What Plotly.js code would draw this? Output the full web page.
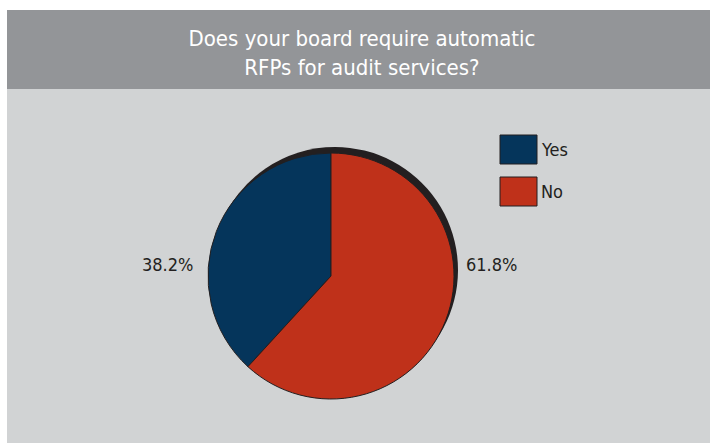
<!DOCTYPE html>
<html>
<head>
<meta charset="utf-8">
<script src="https://cdn.plot.ly/plotly-3.0.1.min.js"></script>
<style>
  html, body { margin: 0; padding: 0; background: #ffffff; }
  #chart { width: 710px; height: 443px; }
</style>
</head>
<body>
<div id="chart"></div>
<script>
// Survey answers
const labels = ['Yes', 'No'];
const shares = [38.2, 61.8];
const sliceColors = ['#05355b', '#bf311a'];
const titleText = 'Does your board require automatic<br>RFPs for audit services?';

const W = 710, H = 443;
const FONT = '"DejaVu Sans Condensed", "Liberation Sans Narrow", Arial, sans-serif';
const INK = '#231f20';

// pixel -> paper helpers
const px = v => v / W;
const py = v => 1 - v / H;

// pie placement (pixels)
const cx = 331, cy = 276, r = 123;
const shadowDx = 4, shadowDy = -6;

// "Yes" ends at 12 o'clock, sweeping back counter-clockwise; "No" follows clockwise
const total = shares.reduce((a, b) => a + b, 0);
const startAngle = -shares[0] / total * 360;

function domainAt(x, y) {
  return { x: [px(x - r), px(x + r)], y: [py(y + r), py(y - r)] };
}

const shadow = {
  type: 'pie',
  labels: labels,
  values: shares,
  sort: false,
  direction: 'clockwise',
  rotation: startAngle,
  textinfo: 'none',
  hoverinfo: 'skip',
  showlegend: false,
  marker: { colors: labels.map(() => INK), line: { width: 0 } },
  domain: domainAt(cx + shadowDx, cy + shadowDy)
};

const pie = {
  type: 'pie',
  labels: labels,
  values: shares,
  sort: false,
  direction: 'clockwise',
  rotation: startAngle,
  textinfo: 'none',
  hoverinfo: 'label+percent',
  showlegend: false,
  marker: { colors: sliceColors, line: { color: INK, width: 1 } },
  domain: domainAt(cx, cy)
};

// panel backgrounds: title band and chart area
const shapes = [
  { type: 'rect', xref: 'paper', yref: 'paper', x0: px(7), x1: 1, y0: py(89), y1: py(10),
    fillcolor: '#939598', line: { width: 0 }, layer: 'below' },
  { type: 'rect', xref: 'paper', yref: 'paper', x0: px(7), x1: 1, y0: 0, y1: py(89),
    fillcolor: '#d1d3d4', line: { width: 0 }, layer: 'below' }
];

const annotations = [];

// legend swatches and names
labels.forEach((name, i) => {
  const top = 135 + 42 * i;
  shapes.push({
    type: 'rect', xref: 'paper', yref: 'paper',
    x0: px(500), x1: px(537), y0: py(top + 29), y1: py(top),
    fillcolor: sliceColors[i], line: { color: INK, width: 1 }
  });
  annotations.push({
    xref: 'paper', yref: 'paper', x: px(539), y: py(top + 14),
    xanchor: 'left', yanchor: 'middle', showarrow: false,
    text: name, font: { family: FONT, size: 18, color: INK }
  });
});

// percentage labels beside the pie
const labelSide = [
  { x: px(cx - r - 13), anchor: 'right' },
  { x: px(cx + r + 10), anchor: 'left' }
];
shares.forEach((v, i) => {
  annotations.push({
    xref: 'paper', yref: 'paper', x: labelSide[i].x, y: py(264),
    xanchor: labelSide[i].anchor, yanchor: 'middle', showarrow: false,
    text: v.toFixed(1) + '%', font: { family: FONT, size: 18, color: INK }
  });
});

const layout = {
  width: W, height: H,
  margin: { l: 0, r: 0, t: 0, b: 0 },
  paper_bgcolor: '#ffffff',
  showlegend: false,
  title: {
    text: titleText,
    x: px(362), xanchor: 'center',
    y: py(46), yanchor: 'middle',
    xref: 'paper', yref: 'paper',
    font: { family: FONT, size: 22, color: '#ffffff' }
  },
  shapes: shapes,
  annotations: annotations
};

Plotly.newPlot('chart', [shadow, pie], layout, { displayModeBar: false, responsive: false });
</script>
</body>
</html>
